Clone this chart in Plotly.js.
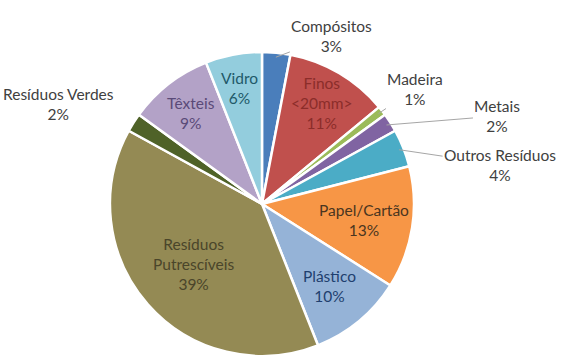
<!DOCTYPE html>
<html>
<head>
<meta charset="utf-8">
<script src="https://cdn.plot.ly/plotly-3.0.1.min.js"></script>
<style>html,body{margin:0;padding:0;background:#fff;}#chart{width:561px;height:356px;}</style>
</head>
<body>
<div id="chart"></div>
<script>
// ---- data ----
const categories = ["Compósitos", "Finos <20mm>", "Madeira", "Metais", "Outros Resíduos",
  "Papel/Cartão", "Plástico", "Resíduos Putrescíveis", "Resíduos Verdes", "Têxteis", "Vidro"];
const labelText = ["Compósitos", "Finos<br><20mm>", "Madeira", "Metais", "Outros Resíduos",
  "Papel/Cartão", "Plástico", "Resíduos<br>Putrescíveis", "Resíduos Verdes", "Têxteis", "Vidro"];
const values = [3, 11, 1, 2, 4, 13, 10, 39, 2, 9, 6];

// ---- styles ----
const colors = ["#4A7EBB", "#C0504D", "#9BBB59", "#8064A2", "#4BACC6", "#F79646",
  "#95B3D7", "#948A54", "#4F6228", "#B3A2C7", "#93CDDD"];
const textColors = ["#404040", "#8B2D2A", "#404040", "#404040", "#404040", "#4A3520",
  "#1F3F6E", "#4A452A", "#404040", "#5A4A78", "#215968"];
// label placement: inside (radius fraction) or outside (pixel offset from slice edge)
const labelMode = ["out", "in", "out", "out", "out", "in", "in", "in", "out", "in", "in"];
const inRadius = [0, 0.77, 0, 0, 0, 0.68, 0.70, 0.60, 0, 0.76, 0.78];
const outOffset = [[56, -21], null, [37, -25], [111, -9], [101, 15], null, null, null, [-79, -21], null, null];
const showLeader = [true, false, true, true, true, false, false, false, false, false, false];

const W = 561, H = 356;
const dom = {x: [0.196, 0.738], y: [0, 0.854]};
const cx = (dom.x[0] + dom.x[1]) / 2 * W;
const cy = H - (dom.y[0] + dom.y[1]) / 2 * H;
const R = Math.min((dom.x[1] - dom.x[0]) * W, (dom.y[1] - dom.y[0]) * H) / 2;
const FONT = "Lato, 'Open Sans', sans-serif";
const FSIZE = 15.5;

const total = values.reduce((a, b) => a + b, 0);
let cum = 0;
const annotations = [];
values.forEach((v, i) => {
  const mid = (cum + v / 2) / total * 2 * Math.PI;
  cum += v;
  const pct = Math.round(v / total * 100) + "%";
  const txt = labelText[i] + "<br>" + pct;
  if (labelMode[i] === "in") {
    const r = R * inRadius[i];
    annotations.push({
      x: (cx + r * Math.sin(mid)) / W, y: 1 - (cy - r * Math.cos(mid)) / H,
      xref: "paper", yref: "paper", text: txt, showarrow: false,
      font: {family: FONT, size: FSIZE, color: textColors[i]},
      xanchor: "center", yanchor: "middle"
    });
  } else {
    const r = R * 0.97;
    annotations.push({
      x: (cx + r * Math.sin(mid)) / W, y: 1 - (cy - r * Math.cos(mid)) / H,
      xref: "paper", yref: "paper", text: txt, showarrow: true,
      ax: outOffset[i][0], ay: outOffset[i][1], arrowhead: 0, arrowwidth: 1,
      arrowcolor: showLeader[i] ? "#A6A6A6" : "rgba(0,0,0,0)", standoff: 0, startstandoff: 0,
      font: {family: FONT, size: FSIZE, color: textColors[i]}
    });
  }
});

const trace = {
  type: "pie",
  labels: categories,
  values: values,
  sort: false,
  direction: "clockwise",
  rotation: 0,
  textinfo: "none",
  hoverinfo: "label+percent",
  marker: {colors: colors, line: {color: "#FFFFFF", width: 2.5}},
  domain: dom,
  automargin: false
};

const layout = {
  width: W, height: H,
  margin: {l: 0, r: 0, t: 0, b: 0},
  paper_bgcolor: "#FFFFFF",
  showlegend: false,
  annotations: annotations
};

Plotly.newPlot("chart", [trace], layout, {displayModeBar: false, staticPlot: true});
</script>
</body>
</html>
